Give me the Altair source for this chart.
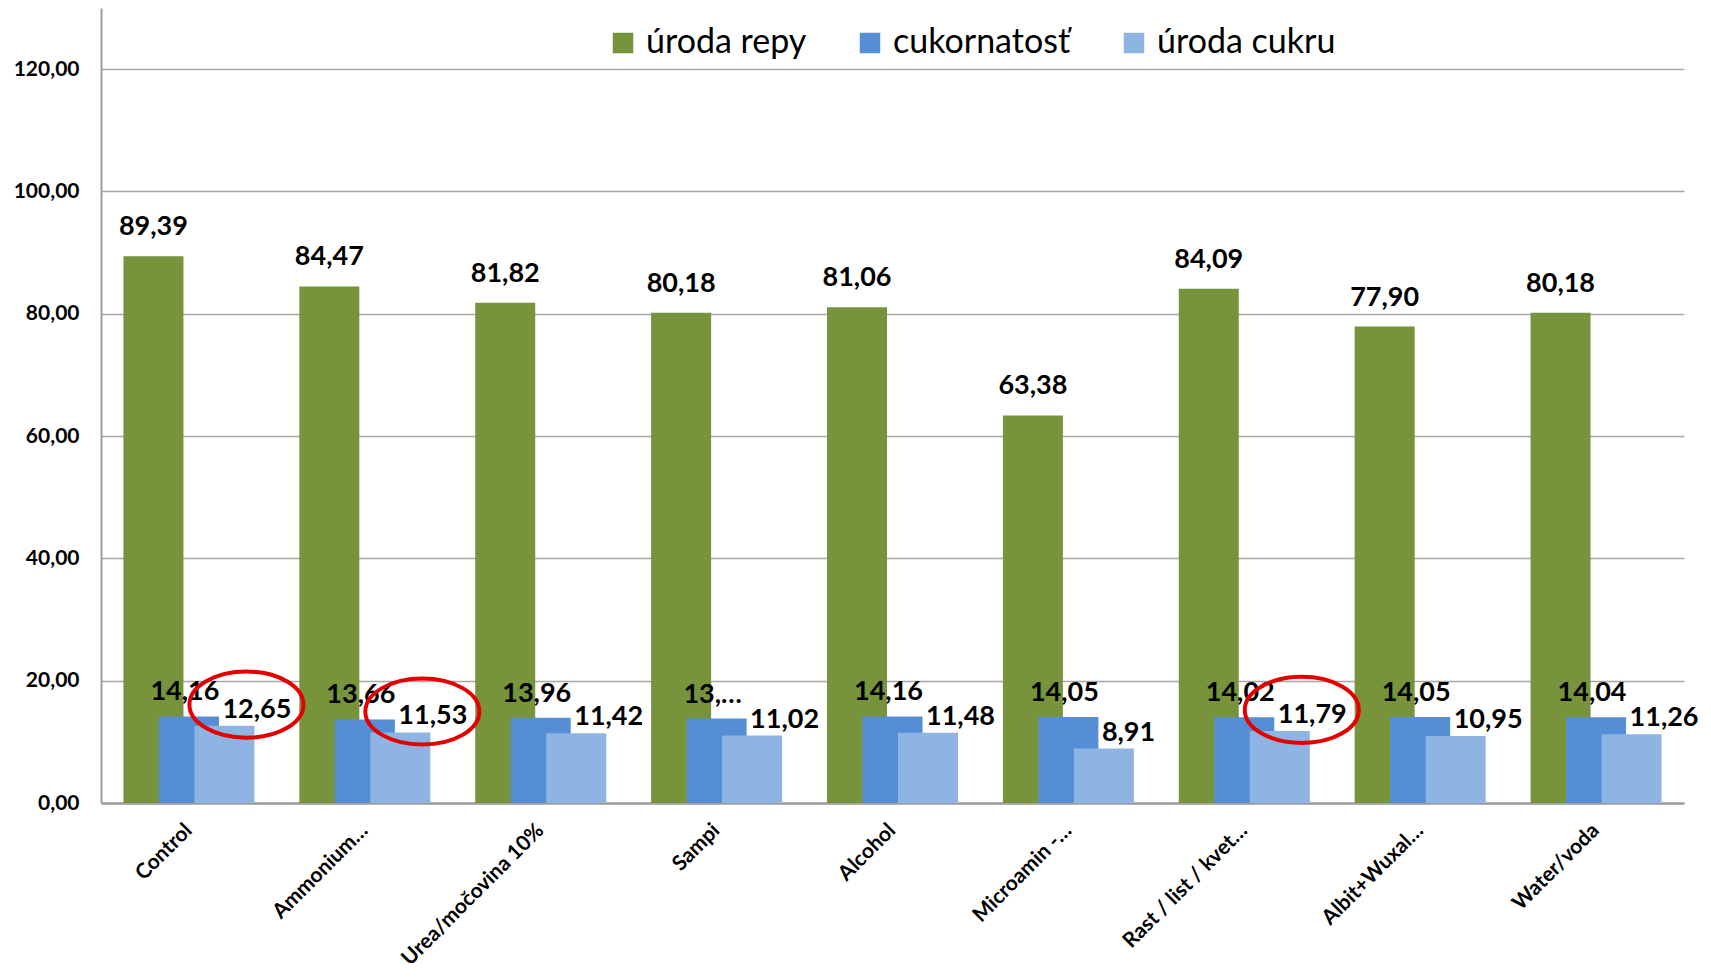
import altair as alt
import pandas as pd

categories = ["Control", "Ammonium…", "Urea/močovina 10%", "Sampi", "Alcohol",
              "Microamin -…", "Rast / list / kvet…", "Albit+Wuxal…", "Water/voda"]
series_names = ["úroda repy", "cukornatosť", "úroda cukru"]
uroda_repy = [89.39, 84.47, 81.82, 80.18, 81.06, 63.38, 84.09, 77.90, 80.18]
cukornatost = [14.16, 13.66, 13.96, 13.80, 14.16, 14.05, 14.02, 14.05, 14.04]
uroda_cukru = [12.65, 11.53, 11.42, 11.02, 11.48, 8.91, 11.79, 10.95, 11.26]
truncated_labels = {("cukornatosť", "Sampi"): "13,…"}
highlighted = ["Control", "Ammonium…", "Rast / list / kvet…"]
colors = ["#77933C", "#558ED5", "#8EB4E3"]
y_ticks = [0, 20, 40, 60, 80, 100, 120]

rows = []
for s, vals in zip(series_names, [uroda_repy, cukornatost, uroda_cukru]):
    for c, v in zip(categories, vals):
        lab = truncated_labels.get((s, c), f"{v:.2f}".replace(".", ","))
        rows.append({"cat": c, "series": s, "value": v, "label": lab,
                     "hl": (s == "úroda cukru" and c in highlighted)})
df = pd.DataFrame(rows)

FONT = "Lato"
BAR_W = 60
OFF = 35.5

x_enc = alt.X("cat:N", sort=categories, title=None,
              scale=alt.Scale(paddingInner=0, paddingOuter=0),
              axis=alt.Axis(labelAngle=-45, labelAlign="right", labelBaseline="middle",
                            labelFont=FONT, labelFontSize=21, labelFontWeight="bold",
                            labelColor="black", labelPadding=24, ticks=False,
                            domainColor="#9E9E9E", domainWidth=2.5, grid=False,
                            labelLimit=400))
y_enc = alt.Y("value:Q", title=None,
              scale=alt.Scale(domain=[0, 130], nice=False),
              axis=alt.Axis(values=y_ticks, labelExpr="replace(format(datum.value, '.2f'), '.', ',')",
                            labelFont=FONT, labelFontSize=21, labelFontWeight="bold",
                            labelColor="black", labelPadding=22, ticks=False,
                            domainColor="#9E9E9E", domainWidth=2,
                            gridColor="#A6A6A6", gridWidth=1.6))
color_enc = alt.Color("series:N", sort=series_names,
                      scale=alt.Scale(domain=series_names, range=colors),
                      legend=alt.Legend(orient="none", legendX=505, legendY=18,
                                        direction="horizontal", title=None,
                                        symbolType="square", symbolSize=420,
                                        symbolStrokeWidth=0, labelFont=FONT,
                                        labelFontSize=34, labelColor="black",
                                        columnPadding=46, labelOffset=6, padding=0,
                                        labelLimit=400))

base = alt.Chart(df)
offsets = [-OFF, 0, OFF]
layers = []
for s, o in zip(series_names, offsets):
    layers.append(base.transform_filter(alt.datum.series == s)
                  .mark_bar(width=BAR_W, xOffset=o)
                  .encode(x=x_enc, y=y_enc, color=color_enc))

text_style = dict(font=FONT, fontSize=27, fontWeight="bold", color="black", baseline="middle")
layers.append(base.transform_filter(alt.datum.series == series_names[0])
              .mark_text(align="center", dx=-OFF, dy=-29, **text_style)
              .encode(x=x_enc, y=y_enc, text="label:N"))
layers.append(base.transform_filter(alt.datum.series == series_names[1])
              .mark_text(align="center", dx=-4, dy=-24, **text_style)
              .encode(x=x_enc, y=y_enc, text="label:N"))
layers.append(base.transform_filter(alt.datum.series == series_names[2])
              .mark_text(align="left", dx=OFF - 2, dy=-16, **text_style)
              .encode(x=x_enc, y=y_enc, text="label:N"))

ellipse = "M-1,0A1,0.58,0,1,1,1,0A1,0.58,0,1,1,-1,0Z"
layers.append(base.transform_filter("datum.hl")
              .mark_point(shape=ellipse, size=13000, filled=False, stroke="#E50000",
                          strokeWidth=4, opacity=1, xOffset=OFF + 22, yOffset=-21)
              .encode(x=x_enc, y=y_enc))

chart = alt.layer(*layers).properties(
    width=1583, height=795,
    autosize=alt.AutoSizeParams(type="none"),
    padding={"left": 93, "top": 0, "right": 15, "bottom": 168},
).configure_view(stroke="transparent")

chart.save("out.html", embed_options={"renderer": "svg", "actions": False})
